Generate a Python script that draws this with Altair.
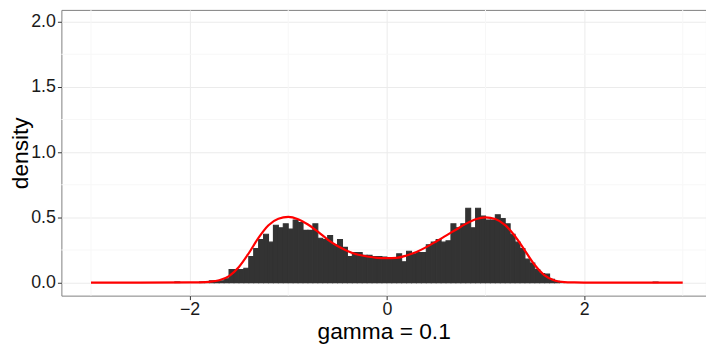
import altair as alt
import pandas as pd

# histogram bins (left edge, width 0.05) and density heights
bin_start = [-2.15, -1.90, -1.85, -1.80, -1.75, -1.70, -1.65, -1.60, -1.55, -1.50,
             -1.45, -1.40, -1.35, -1.30, -1.25, -1.20, -1.15, -1.10, -1.05, -1.00,
             -0.95, -0.90, -0.85, -0.80, -0.75, -0.70, -0.65, -0.60, -0.55, -0.50,
             -0.45, -0.40, -0.35, -0.30, -0.25, -0.20, -0.15, -0.10, -0.05, 0.00,
             0.05, 0.10, 0.15, 0.20, 0.25, 0.30, 0.35, 0.40, 0.45, 0.50,
             0.55, 0.60, 0.65, 0.70, 0.75, 0.80, 0.85, 0.90, 0.95, 1.00,
             1.05, 1.10, 1.15, 1.20, 1.25, 1.30, 1.35, 1.40, 1.45, 1.50,
             1.55, 1.60, 1.65, 1.70, 1.75, 2.70]
bin_density = [0.005, 0.005, 0.008, 0.013, 0.013, 0.013, 0.03, 0.10, 0.10, 0.10,
               0.11, 0.20, 0.26, 0.33, 0.37, 0.31, 0.44, 0.42, 0.45, 0.41,
               0.48, 0.46, 0.40, 0.40, 0.45, 0.34, 0.33, 0.36, 0.29, 0.33,
               0.27, 0.20, 0.23, 0.23, 0.21, 0.21, 0.20, 0.20, 0.195, 0.19,
               0.19, 0.22, 0.16, 0.24, 0.22, 0.23, 0.23, 0.29, 0.31, 0.33,
               0.31, 0.32, 0.45, 0.42, 0.45, 0.57, 0.42, 0.57, 0.51, 0.48,
               0.48, 0.52, 0.49, 0.45, 0.37, 0.31, 0.26, 0.18, 0.15, 0.10,
               0.07, 0.065, 0.025, 0.01, 0.005, 0.004]
bin_width = 0.05

# red density curve
curve_x = [-3.0, -2.5, -2.0, -1.9, -1.8, -1.7, -1.6, -1.5, -1.4, -1.3, -1.2, -1.1,
           -1.0, -0.9, -0.8, -0.7, -0.6, -0.5, -0.4, -0.3, -0.2, -0.1, 0.0,
           0.1, 0.2, 0.3, 0.4, 0.5, 0.6, 0.7, 0.8, 0.9, 1.0, 1.1, 1.2, 1.3,
           1.4, 1.5, 1.6, 1.7, 1.8, 1.9, 2.0, 2.5, 3.0]
curve_y = [0.0, 0.0, 0.001, 0.002, 0.006, 0.018, 0.05, 0.12, 0.225, 0.345, 0.44, 0.49,
           0.503, 0.485, 0.445, 0.39, 0.33, 0.28, 0.243, 0.215, 0.20, 0.19, 0.187,
           0.19, 0.208, 0.235, 0.272, 0.315, 0.36, 0.405, 0.45, 0.485, 0.50, 0.487, 0.44, 0.355,
           0.245, 0.135, 0.055, 0.016, 0.004, 0.001, 0.0, 0.0, 0.0]

x_ticks = [-2, 0, 2]
y_ticks = [0.0, 0.5, 1.0, 1.5, 2.0]
x_minor = [-3, -1, 1, 3]
y_minor = [0.25, 0.75, 1.25, 1.75]

bars = pd.DataFrame({"x0": bin_start, "d": bin_density})
bars["x1"] = bars["x0"] + bin_width
curve = pd.DataFrame({"x": curve_x, "y": curve_y})

xs = alt.Scale(domain=[-3.3, 3.236], nice=False, zero=False)
ys = alt.Scale(domain=[-0.1, 2.09], nice=False, zero=False)
x_axis = alt.Axis(values=x_ticks, format="d")
y_axis = alt.Axis(values=y_ticks, format=".1f")
x_title = "gamma = 0.1"
y_title = "density"

minor_x = alt.Chart(pd.DataFrame({"v": x_minor})).mark_rule(
    color="#F7F7F7", strokeWidth=1).encode(
    x=alt.X("v:Q", scale=xs, axis=x_axis, title=x_title))
minor_y = alt.Chart(pd.DataFrame({"v": y_minor})).mark_rule(
    color="#F7F7F7", strokeWidth=1).encode(
    y=alt.Y("v:Q", scale=ys, axis=y_axis, title=y_title))

hist = alt.Chart(bars).mark_bar(color="#333333", stroke="#333333",
                                strokeWidth=1.1).encode(
    x=alt.X("x0:Q", scale=xs, axis=x_axis, title=x_title),
    x2="x1:Q",
    y=alt.Y("d:Q", scale=ys, axis=y_axis, title=y_title),
    y2=alt.datum(0),
)

line = alt.Chart(curve).mark_line(color="#FF0000", strokeWidth=2.2,
                                  interpolate="monotone").encode(
    x=alt.X("x:Q", scale=xs, axis=x_axis, title=x_title),
    y=alt.Y("y:Q", scale=ys, axis=y_axis, title=y_title),
)

chart = alt.layer(minor_x, minor_y, hist, line).properties(
    width=652, height=289,
    autosize=alt.AutoSizeParams(type="none"),
    padding={"left": 54, "top": 0, "right": 0, "bottom": 48},
    background="white",
).configure(font="Liberation Sans").configure_view(
    stroke="#7F7F7F", strokeWidth=1
).configure_axis(
    grid=True, gridColor="#EBEBEB", gridWidth=1,
    domain=False, tickColor="#333333", tickSize=4, tickWidth=1,
    labelFont="Liberation Sans", labelFontSize=18, labelColor="#1A1A1A",
    titleFont="Liberation Sans", titleFontSize=23, titleFontWeight="normal",
    titleColor="black",
).configure_axisX(
    labelPadding=1, titlePadding=2,
).configure_axisY(
    labelPadding=2, titleX=-41, titleBaseline="middle",
)

chart.save("out.html", embed_options={"renderer": "svg", "actions": False})
